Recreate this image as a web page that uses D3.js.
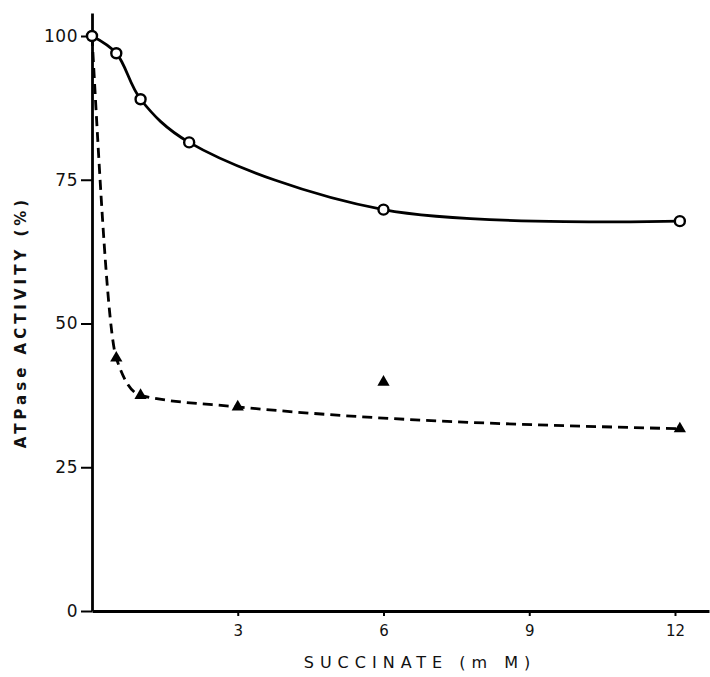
<!DOCTYPE html>
<html>
<head>
<meta charset="utf-8">
<script src="https://cdn.jsdelivr.net/npm/d3@7"></script>
<style>
  body { margin: 0; background: #fff; }
  text { font-family: "DejaVu Sans", sans-serif; fill: #111; }
</style>
</head>
<body>
<script>
// Succinate concentration (mM) and ATPase activity (%)
const circleConc = [0, 0.5, 1, 2, 6, 12.1];
const circleAct = [100, 97, 89, 81.5, 69.8, 67.8];

const triConc = [0, 0.5, 1, 3, 6, 12.1];
const triAct = [100, 44, 37.5, 35.5, 39.8, 31.7];
// the 6 mM triangle sits off the fitted dashed curve
const triOnCurve = [true, true, true, true, false, true];

const xTicks = [3, 6, 9, 12];
const yTicks = [0, 25, 50, 75, 100];

const width = 710;
const height = 677;

const x = d3.scaleLinear().domain([0, 12.7]).range([92, 709]);
const y = d3.scaleLinear().domain([0, 104]).range([611, 13]);

const svg = d3.select("body").append("svg")
    .attr("width", width)
    .attr("height", height);

// Axes
const xAxis = svg.append("g")
    .attr("transform", `translate(0,${y(0)})`)
    .call(d3.axisBottom(x).tickValues(xTicks).tickSize(5).tickSizeOuter(0).tickPadding(9));

const yAxis = svg.append("g")
    .attr("transform", `translate(${x(0)},0)`)
    .call(d3.axisLeft(y).tickValues(yTicks).tickSize(11).tickSizeOuter(0).tickPadding(3));

svg.selectAll(".domain").attr("stroke", "#000").attr("stroke-width", 2.8);
svg.selectAll(".tick line").attr("stroke", "#000").attr("stroke-width", 2);
xAxis.selectAll(".tick text").attr("font-size", 15).attr("fill", "#111");
yAxis.selectAll(".tick text").attr("font-size", 17).attr("fill", "#111").attr("letter-spacing", 0.5);
svg.selectAll(".tick text").style("font-family", "'DejaVu Sans', sans-serif");

// Axis titles
svg.append("text")
    .attr("x", 420)
    .attr("y", 668)
    .attr("text-anchor", "middle")
    .attr("font-size", 16)
    .attr("letter-spacing", 6)
    .text("SUCCINATE  (m M)");

svg.append("text")
    .attr("transform", "translate(26,322) rotate(-90)")
    .attr("text-anchor", "middle")
    .attr("font-size", 15)
    .attr("font-weight", "bold")
    .attr("letter-spacing", 4)
    .text("ATPase  ACTIVITY  (%)");

// Curves
const circles = circleConc.map((c, i) => ({ c, a: circleAct[i] }));
const triangles = triConc.map((c, i) => ({ c, a: triAct[i], fit: triOnCurve[i] }));

const solidLine = d3.line()
    .x(d => x(d.c))
    .y(d => y(d.a))
    .curve(d3.curveCatmullRom.alpha(0.5));

const dashLine = d3.line()
    .x(d => x(d.c))
    .y(d => y(d.a))
    .curve(d3.curveMonotoneX);

svg.append("path")
    .datum(circles)
    .attr("fill", "none")
    .attr("stroke", "#000")
    .attr("stroke-width", 2.8)
    .attr("d", solidLine);

svg.append("path")
    .datum(triangles.filter(d => d.fit))
    .attr("fill", "none")
    .attr("stroke", "#000")
    .attr("stroke-width", 2.8)
    .attr("stroke-dasharray", "10,6")
    .attr("d", dashLine);

// Markers
svg.selectAll(".circ")
    .data(circles)
    .join("circle")
    .attr("cx", d => x(d.c))
    .attr("cy", d => y(d.a))
    .attr("r", 5)
    .attr("fill", "#fff")
    .attr("stroke", "#000")
    .attr("stroke-width", 2.4);

svg.selectAll(".tri")
    .data(triangles.slice(1))
    .join("path")
    .attr("transform", d => `translate(${x(d.c)},${y(d.a)})`)
    .attr("d", d3.symbol(d3.symbolTriangle, 65))
    .attr("fill", "#000");
</script>
</body>
</html>
